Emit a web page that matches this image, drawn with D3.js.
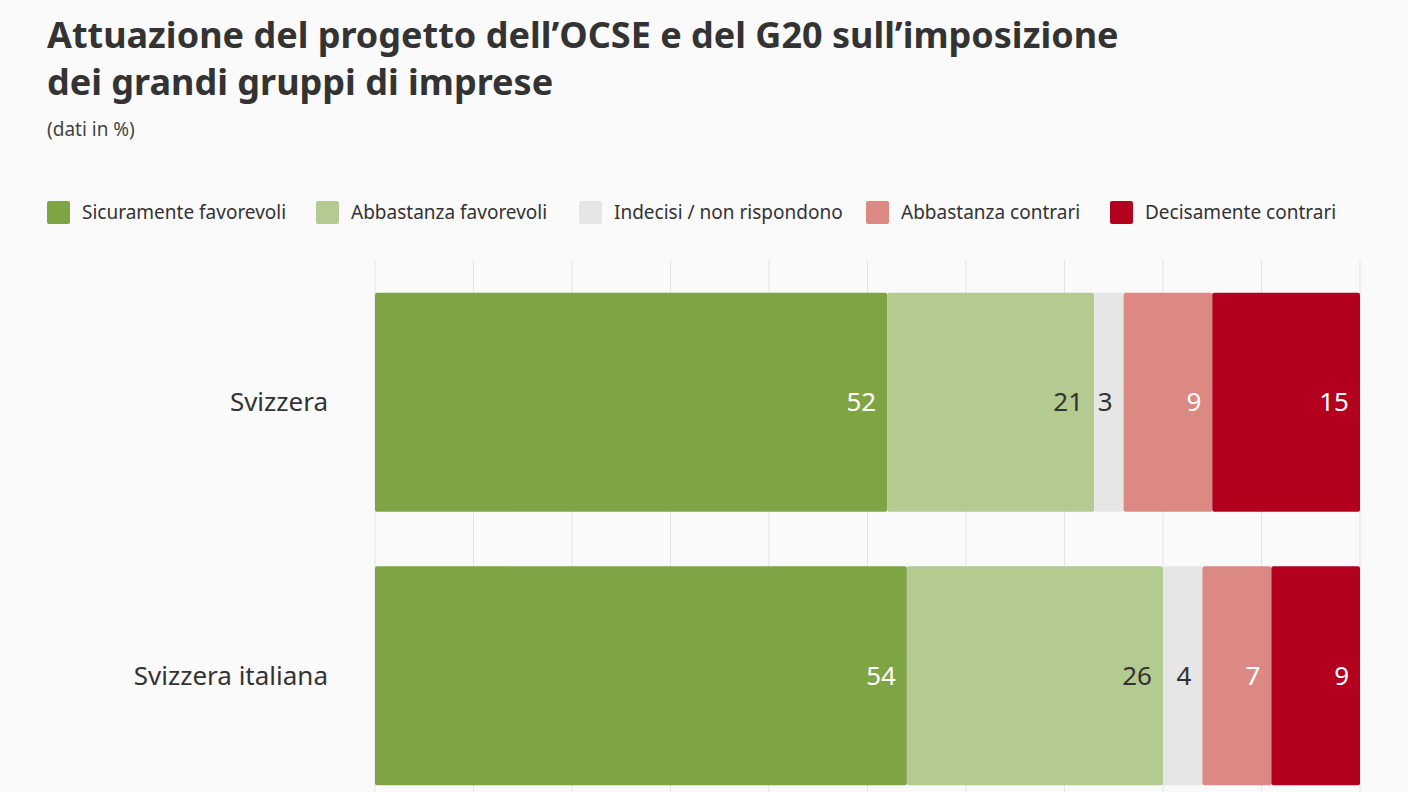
<!DOCTYPE html>
<html>
<head>
<meta charset="utf-8">
<script src="https://cdn.jsdelivr.net/npm/d3@7"></script>
<style>
  body { margin: 0; background: #fafafa; }
  svg { font-family: "Noto Sans", sans-serif; display: block; }
</style>
</head>
<body>
<svg id="chart" width="1408" height="792"></svg>
<script>
// dati
const categories = ["Svizzera", "Svizzera italiana"];
const seriesNames = ["Sicuramente favorevoli", "Abbastanza favorevoli", "Indecisi / non rispondono", "Abbastanza contrari", "Decisamente contrari"];
const seriesColors = ["#7fa443", "#b3ca90", "#e6e6e6", "#dc8984", "#b2001e"];
const labelColors = ["#fff", "#333", "#333", "#fff", "#fff"];
const values = [
  [52, 21, 3, 9, 15],
  [54, 26, 4, 7, 9],
];
const xTicks = d3.range(0, 101, 10);

const svg = d3.select("#chart");

// titolo
svg.append("text").attr("x", 47).attr("y", 48)
  .attr("font-size", 36).attr("font-weight", 700).attr("fill", "#333")
  .text("Attuazione del progetto dell’OCSE e del G20 sull’imposizione");
svg.append("text").attr("x", 47).attr("y", 95)
  .attr("font-size", 36).attr("font-weight", 700).attr("fill", "#333")
  .text("dei grandi gruppi di imprese");
svg.append("text").attr("x", 47).attr("y", 136)
  .attr("font-size", 19).attr("fill", "#444").text("(dati in %)");

// legenda
const legendX = [47, 316, 579, 866, 1110];
seriesNames.forEach((name, i) => {
  const g = svg.append("g").attr("transform", `translate(${legendX[i]},201)`);
  g.append("rect").attr("width", 23).attr("height", 23).attr("rx", 2).attr("fill", seriesColors[i]);
  g.append("text").attr("x", 35).attr("y", 18).attr("font-size", 19).attr("fill", "#333").text(name);
});

// scale
const x = d3.scaleLinear().domain([0, 100]).range([375, 1360]);
const y = d3.scaleBand().domain(categories).range([260, 818]).paddingInner(0.2).paddingOuter(0.12);

// griglia
svg.append("g").selectAll("line").data(xTicks).join("line")
  .attr("x1", d => x(d)).attr("x2", d => x(d))
  .attr("y1", 260).attr("y2", 792)
  .attr("stroke", "#e3e3e3").attr("stroke-width", 1);

// barre
categories.forEach((cat, ci) => {
  let acc = 0;
  const g = svg.append("g");
  values[ci].forEach((v, si) => {
    const x0 = x(acc), x1 = x(acc + v);
    acc += v;
    g.append("rect").attr("x", x0).attr("y", y(cat))
      .attr("width", x1 - x0).attr("height", y.bandwidth())
      .attr("rx", 2).attr("fill", seriesColors[si]);
    g.append("text").attr("x", x1 - 11).attr("y", y(cat) + y.bandwidth() / 2 + 9)
      .attr("text-anchor", "end").attr("font-size", 26).attr("fill", labelColors[si])
      .text(v);
  });
  svg.append("text").attr("x", 328).attr("y", y(cat) + y.bandwidth() / 2 + 9)
    .attr("text-anchor", "end").attr("font-size", 26).attr("fill", "#333").text(cat);
});
</script>
</body>
</html>
